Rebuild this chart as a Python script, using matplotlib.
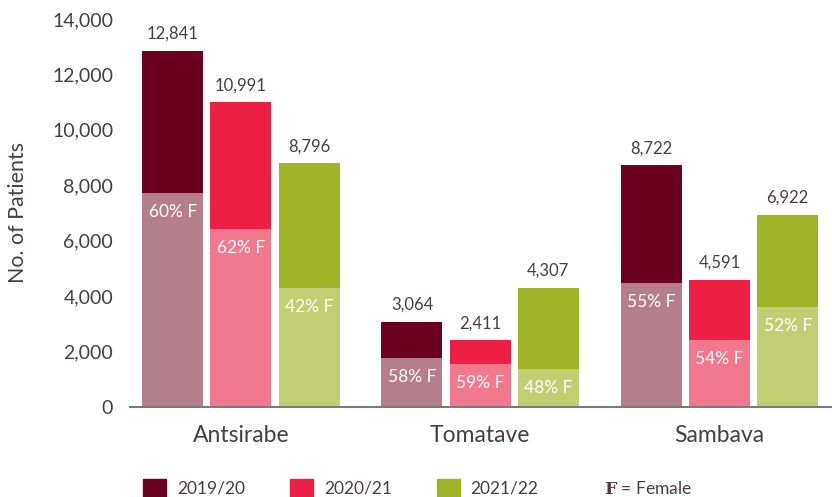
import matplotlib
matplotlib.use('Agg')
import numpy as np
import matplotlib.pyplot as plt
from matplotlib.patches import Patch

plt.rcParams['font.family'] = ['Lato', 'DejaVu Sans']
plt.rcParams['mathtext.fontset'] = 'custom'
plt.rcParams['mathtext.bf'] = 'DejaVu Serif:bold'

sites = ['Antsirabe', 'Tomatave', 'Sambava']
years = ['2019/20', '2020/21', '2021/22']
# total patients per year, one list per year (sites in order)
patients = [
    [12841, 3064, 8722],
    [10991, 2411, 4591],
    [8796, 4307, 6922],
]
# female share as printed on the bars
female_pct = [
    [60, 58, 55],
    [62, 59, 54],
    [42, 48, 52],
]
# height of the lighter (female) part as drawn in the chart
female_patients = [
    [7730, 1770, 4490],
    [6430, 1550, 2420],
    [4310, 1370, 3620],
]
dark_colors = ['#6b0020', '#ee1f45', '#a0b42a']
light_colors = ['#b47e8c', '#f2788e', '#c2ce72']
text_color = '#4a3c3f'

fig = plt.figure(figsize=(8.32, 4.97), dpi=100)
ax = fig.add_axes([0.156, 0.181, 0.844, 0.781])

x = np.arange(len(sites))
step = 0.285
width = 0.255

for i, year in enumerate(years):
    pos = x + (i - 1) * step
    ax.bar(pos, patients[i], width, color=dark_colors[i])
    ax.bar(pos, female_patients[i], width, color=light_colors[i])
    for px, t, f, p in zip(pos, patients[i], female_patients[i], female_pct[i]):
        ax.annotate(f'{t:,}', (px, t), xytext=(0, 6.5), textcoords='offset points',
                    ha='center', va='bottom', fontsize=12, color=text_color)
        ax.annotate(f'{p}% F', (px, f), xytext=(0, -8), textcoords='offset points',
                    ha='center', va='top', fontsize=12.5, color='white')

ax.set_ylim(0, 14000)
ax.set_xlim(-0.464, 2.47)
ax.set_yticks(range(0, 14001, 2000))
ax.set_yticklabels([f'{v:,}' for v in range(0, 14001, 2000)])
ax.set_xticks(x)
ax.set_xticklabels(sites, fontsize=16.5, color=text_color)
ax.tick_params(axis='y', length=0, labelsize=14, labelcolor=text_color, pad=12)
ax.tick_params(axis='x', length=0, pad=13)
for s in ['top', 'right', 'left']:
    ax.spines[s].set_visible(False)
ax.spines['bottom'].set_color('#7a7a7a')
ax.spines['bottom'].set_linewidth(1.5)
ax.set_ylabel('No. of Patients', fontsize=15.4, color=text_color, labelpad=17)

handles = [Patch(color=c, label=y) for c, y in zip(dark_colors, years)]
fig.legend(handles=handles, loc='center left', bbox_to_anchor=(0.1635, 0.018), ncol=3,
           frameon=False, fontsize=12.5, handlelength=1.35, handleheight=1.25,
           handletextpad=0.6, columnspacing=2.6, labelcolor=text_color,
           borderaxespad=0)
fig.text(0.726, 0.018, r'$\mathbf{F}$ = Female', fontsize=12.5, color=text_color,
         va='center', ha='left')

fig.savefig('out.png', dpi=100)
